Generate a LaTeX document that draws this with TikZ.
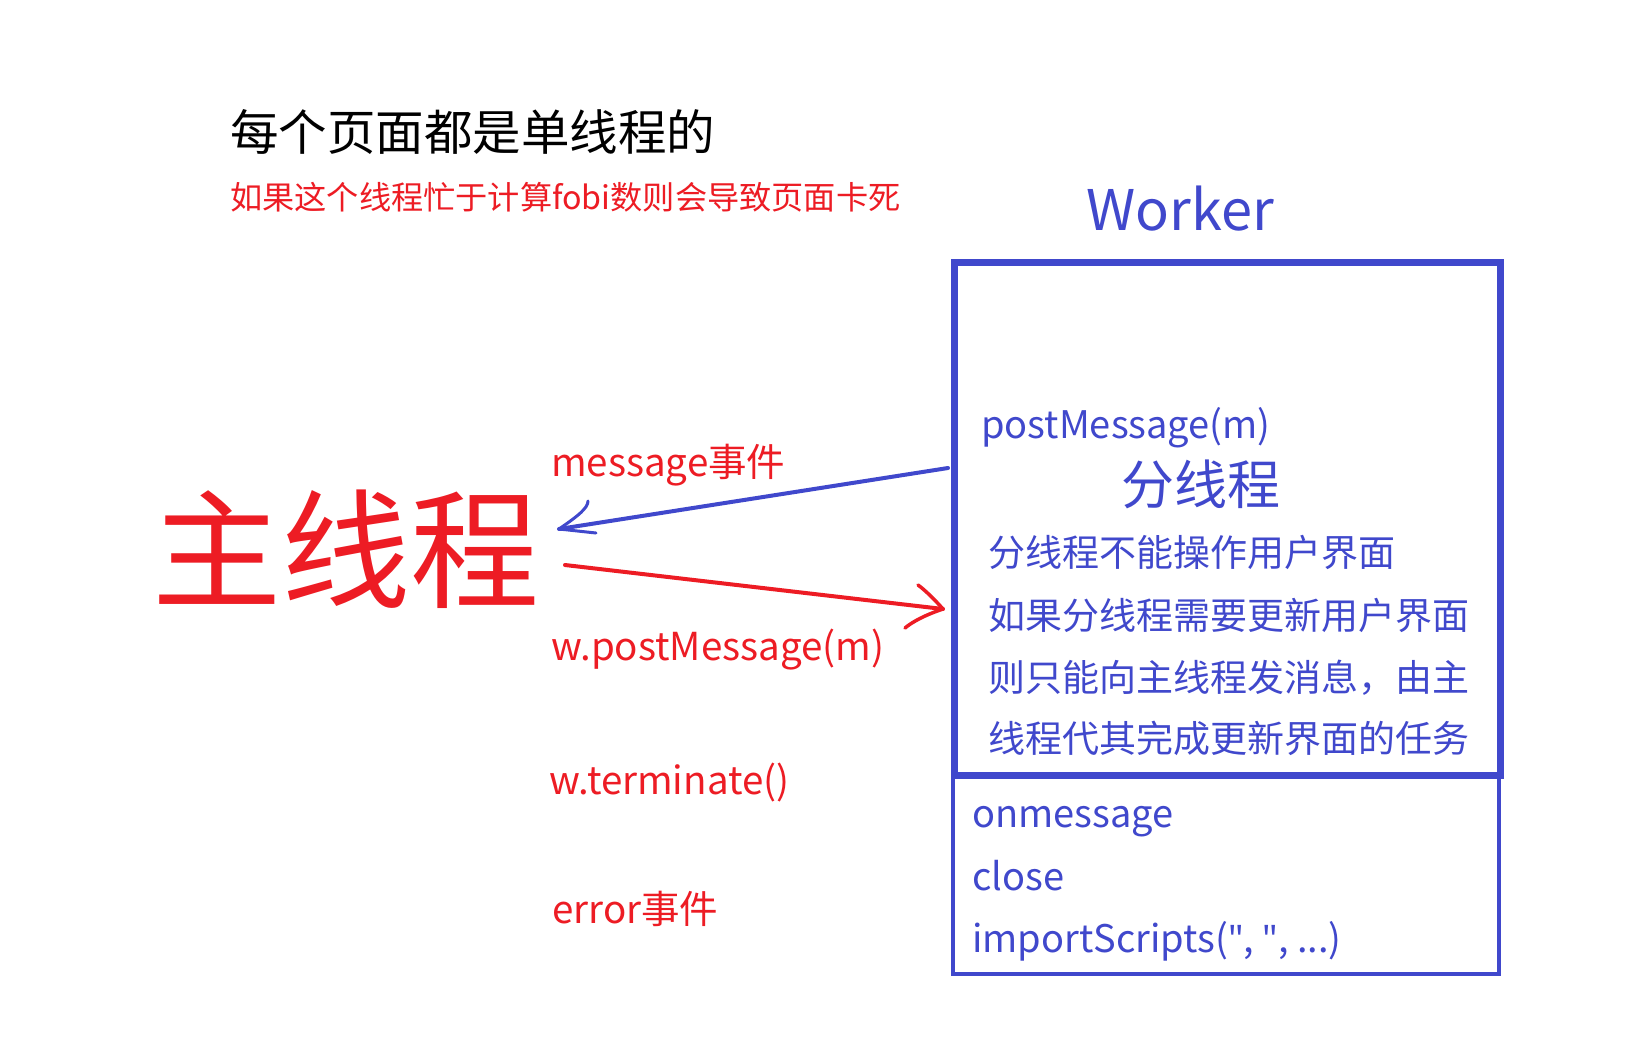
\documentclass[tikz,border=0pt]{standalone}
\usepackage{fontspec}
\setmainfont{Noto Sans CJK SC}
\newfontfamily\latfont{Noto Sans}
\definecolor{wblue}{RGB}{64,72,204}
\definecolor{wred}{RGB}{237,28,36}
\begin{document}
\begin{tikzpicture}[x=1pt,y=-1pt,
  txt/.style={inner sep=0pt,anchor=west},
  uni/.style={text height=0.78em,text depth=0.2em},
  bluetxt/.style={txt,uni,text=wblue,font=\fontsize{38}{42}\selectfont},
  redtxt/.style={txt,uni,text=wred,font=\fontsize{38.5}{42}\selectfont},
  cjktxt/.style={txt,uni,text=wblue,font=\fontsize{37}{40}\selectfont},
  hand/.style={line width=4pt,line cap=round,line join=round}]
\useasboundingbox[fill=white] (0,0) rectangle (1625,1050);
% titles
\node[txt,font=\fontsize{48.5}{50}\selectfont] (t1) at (230,132) {每个页面都是单线程的};
\node[txt,text=wred,font=\fontsize{32.2}{34}\selectfont] (t2) at (230,197) {如果这个线程忙于计算fobi数则会导致页面卡死};
\node[anchor=center,inner sep=0pt,text=wblue,font=\fontsize{56}{60}\selectfont] (wk) at (1180,209) {Worker};
% main thread
\node[txt,text=wred,font=\fontsize{129}{130}\selectfont] (main) at (152,549) {主线程};
% labels
\node[redtxt] (lmsg) at (551,474) {message事件};
\node[redtxt] (lpost) at (551,658) {w.postMessage(m)};
\node[redtxt] (lterm) at (549,792) {w.terminate()};
\node[redtxt] (lerr) at (552,921) {error事件};
% worker boxes
\node[draw=wblue,line width=7pt,minimum width=546pt,minimum height=513pt,anchor=north west,inner sep=0pt] (ubox) at (951,259) {};
\node[draw=wblue,line width=4pt,minimum width=546pt,minimum height=200pt,anchor=north west,inner sep=0pt] (lbox) at (951,772) {};
% upper box texts
\node[bluetxt] (pm) at (981,436) {postMessage(m)};
\node[anchor=center,inner sep=0pt,text=wblue,font=\fontsize{53}{56}\selectfont] (fx) at (1201,484) {分线程};
\node[cjktxt] (d1) at (988,564) {分线程不能操作用户界面};
\node[cjktxt] (d2) at (988,627) {如果分线程需要更新用户界面};
\node[cjktxt] (d3) at (988,689) {则只能向主线程发消息，由主};
\node[cjktxt] (d4) at (988,750) {线程代其完成更新界面的任务};
% lower box texts
\node[bluetxt] (om) at (972,825) {onmessage};
\node[bluetxt] (cl) at (972,888) {close};
\node[bluetxt] (is) at (972,950) {importScripts({\latfont"}, {\latfont"}, ...)};
% arrows
\coordinate (bs) at (948,468);
\coordinate (bt) at (559,529);
\coordinate (rs) at (565,565);
\coordinate (rt) at (943,609);
\draw[hand,draw=wblue] (bs) -- (bt);
\draw[hand,draw=wblue,line width=3pt] (bt) .. controls (578,516) and (588,508) .. (588,501);
\draw[hand,draw=wblue,line width=3pt] (bt) -- (596,533);
\draw[hand,draw=wred] (rs) -- (rt);
\draw[hand,draw=wred,line width=3.5pt] (918,585) .. controls (925,590) and (935,600) .. (rt);
\draw[hand,draw=wred,line width=3.5pt] (rt) .. controls (925,615) and (912,622) .. (905,628);
\end{tikzpicture}
\end{document}
